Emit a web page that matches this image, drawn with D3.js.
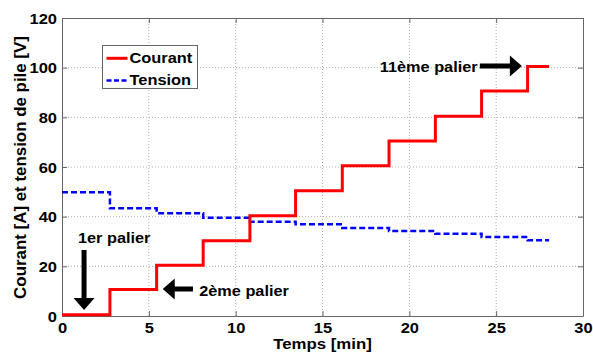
<!DOCTYPE html>
<html><head><meta charset="utf-8">
<script src="https://cdn.jsdelivr.net/npm/d3@7"></script>
<style>body{margin:0;background:#fff}svg{display:block}text{font-family:"Liberation Sans",Arial,sans-serif;font-weight:bold}</style>
</head><body><svg id="c" width="593" height="353"></svg>
<script>
// Data
const stepTimes = [0, 2.76, 5.45, 8.13, 10.82, 13.45, 16.14, 18.83, 21.5, 24.16, 26.81, 28.05];
const courant = [0.5, 10.7, 20.4, 30.3, 40.4, 50.4, 60.5, 70.5, 80.4, 90.6, 100.5, 100.5];
const tension = [49.8, 43.4, 41.4, 39.6, 38.0, 36.9, 35.4, 34.2, 33.1, 31.8, 30.5, 30.5];
const xTicks = [0, 5, 10, 15, 20, 25, 30];
const yTicks = [0, 20, 40, 60, 80, 100, 120];
const seriesNames = ["Courant", "Tension"];
const annotations = [
  {text: "1er palier", tx: 0.92, ty: 29.5, from: [1.27, 26.6], to: [1.27, 2.4]},
  {text: "2ème palier", tx: 7.9, ty: 8.1, from: [7.54, 10.9], to: [5.8, 10.9]},
  {text: "11ème palier", tx: 18.3, ty: 98.2, from: [24.06, 100.7], to: [26.48, 100.7]}
];

const SQ = 0.87; // vertical squash of horizontal texts, as in the reference
const svg = d3.select("#c");
const L = 62, R = 583, T = 18, B = 316;
const x = d3.scaleLinear().domain([0, 30]).range([L, R]);
const y = d3.scaleLinear().domain([0, 120]).range([B, T]);

function sqText(sel, px, py, txt, size, anchor) {
  return sel.append("text").attr("x", 0).attr("y", 0)
    .attr("transform", `translate(${px},${py}) scale(1,${SQ})`)
    .attr("text-anchor", anchor || "start").style("font-size", size + "px").text(txt);
}

// grid
const g = svg.append("g");
g.selectAll(".gx").data(xTicks.slice(1, -1)).join("line")
  .attr("x1", d => x(d)).attr("x2", d => x(d)).attr("y1", T).attr("y2", B)
  .attr("stroke", "#b0b0b0").attr("stroke-width", 1).attr("stroke-dasharray", "1,2");
g.selectAll(".gy").data(yTicks.slice(1, -1)).join("line")
  .attr("y1", d => y(d)).attr("y2", d => y(d)).attr("x1", L).attr("x2", R)
  .attr("stroke", "#b0b0b0").attr("stroke-width", 1).attr("stroke-dasharray", "1,2");

// axes
const ax = svg.append("g").attr("transform", `translate(0,${B})`)
  .call(d3.axisBottom(x).tickValues(xTicks).tickSize(-5).tickSizeOuter(0));
const ay = svg.append("g").attr("transform", `translate(${L},0)`)
  .call(d3.axisLeft(y).tickValues(yTicks).tickSize(-5).tickSizeOuter(0));
const at = svg.append("g").attr("transform", `translate(0,${T})`)
  .call(d3.axisTop(x).tickValues(xTicks).tickSize(-5).tickFormat("").tickSizeOuter(0));
const ar = svg.append("g").attr("transform", `translate(${R},0)`)
  .call(d3.axisRight(y).tickValues(yTicks).tickSize(-5).tickFormat("").tickSizeOuter(0));
[ax, ay, at, ar].forEach(a => {
  a.selectAll("path").attr("stroke", "#666").attr("stroke-width", 1);
  a.selectAll("line").attr("stroke", "#666");
  a.selectAll("text").attr("fill", "#000").style("font-size", "16.5px").style("font-weight", "bold")
    .style("font-family", '"Liberation Sans",Arial,sans-serif');
});
ax.selectAll(".tick text").attr("y", 0).attr("dy", 0)
  .attr("transform", `translate(0,17) scale(1,${SQ})`);
ay.selectAll(".tick text").attr("x", 0).attr("dy", 0)
  .attr("transform", `translate(-5,5) scale(1,${SQ})`);

// axis titles
sqText(svg, (L + R) / 2, 349, "Temps [min]", 16.8, "middle");
svg.append("text").attr("transform", `translate(26,${(T + B) / 2 + 0.5}) rotate(-90)`)
  .attr("text-anchor", "middle").style("font-size", "16.9px")
  .text("Courant [A] et tension de pile [V]");

// lines
const line = d3.line().x(d => x(d[0])).y(d => y(d[1])).curve(d3.curveStepAfter);
svg.append("path").datum(stepTimes.map((t, i) => [t, tension[i]]))
  .attr("d", line).attr("fill", "none").attr("stroke", "#0000ff")
  .attr("stroke-width", 2.5).attr("stroke-dasharray", "6,3");
svg.append("path").datum(stepTimes.map((t, i) => [t, courant[i]]))
  .attr("d", line).attr("fill", "none").attr("stroke", "#ff0000").attr("stroke-width", 3);

// annotations
annotations.forEach(a => {
  sqText(svg, x(a.tx), y(a.ty), a.text, 16.3);
  const x1 = x(a.from[0]), y1 = y(a.from[1]), x2 = x(a.to[0]), y2 = y(a.to[1]);
  const ang = Math.atan2(y2 - y1, x2 - x1);
  const len = Math.hypot(x2 - x1, y2 - y1);
  const hl = 12, hw = 10.5, sw = 2.5;
  const ag = svg.append("g").attr("transform", `translate(${x1},${y1}) rotate(${ang * 180 / Math.PI})`);
  ag.append("path").attr("fill", "#000")
    .attr("d", `M0,${-sw} L${len - hl},${-sw} L${len - hl},${-hw} L${len},0 L${len - hl},${hw} L${len - hl},${sw} L0,${sw} Z`);
});

// legend
const lg = svg.append("g");
lg.append("rect").attr("x", 102.5).attr("y", 45.5).attr("width", 95).attr("height", 43)
  .attr("fill", "#fff").attr("stroke", "#666").attr("stroke-width", 1);
const colors = ["#ff0000", "#0000ff"];
seriesNames.forEach((n, i) => {
  const yy = 58.3 + i * 22.3;
  lg.append("line").attr("x1", 106.5).attr("x2", 127.5).attr("y1", yy).attr("y2", yy)
    .attr("stroke", colors[i]).attr("stroke-width", i ? 2.5 : 3)
    .attr("stroke-dasharray", i ? "5,2.5" : null);
  sqText(lg, 129.5, yy + 4.8, n, 16.4);
});
</script></body></html>
